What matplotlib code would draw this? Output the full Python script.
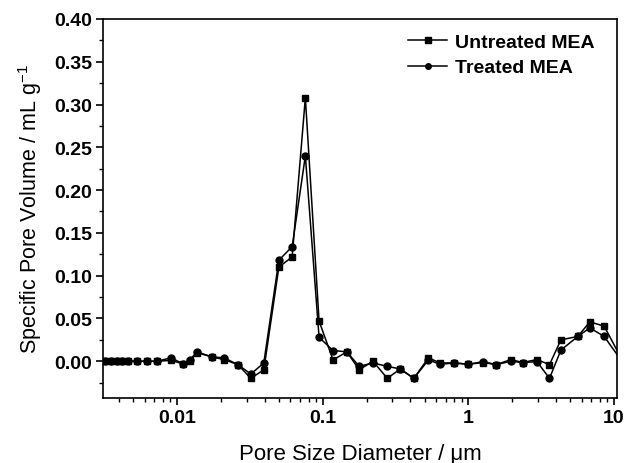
import matplotlib
matplotlib.use("Agg")
import matplotlib.pyplot as plt
from matplotlib.ticker import FixedLocator, MultipleLocator, FixedFormatter, NullFormatter, LogLocator

plt.rcParams['font.family'] = ['Liberation Sans', 'DejaVu Sans']

# pore diameters (um), shared by both series
diameter = [0.0032, 0.0035, 0.0039, 0.0042, 0.0046, 0.0053, 0.0062, 0.0073, 0.0091,
            0.011, 0.0123, 0.0137, 0.0174, 0.021, 0.0262, 0.0321, 0.0394, 0.050,
            0.0617, 0.076, 0.0944, 0.1177, 0.1466, 0.178, 0.2213, 0.2776, 0.3407,
            0.422, 0.532, 0.640, 0.801, 1.0, 1.267, 1.549, 1.961, 2.354, 2.956,
            3.604, 4.316, 5.64, 6.82, 8.55, 12.0]

untreated = [0, 0, 0, 0, 0, 0, 0, 0, 0.001,
             -0.003, 0.000, 0.010, 0.005, 0.002, -0.004, -0.020, -0.010, 0.110,
             0.122, 0.308, 0.047, 0.0015, 0.011, -0.010, 0.000, -0.020, -0.009,
             -0.020, 0.004, -0.002, -0.002, -0.0035, -0.0015, -0.004, 0.002, -0.0015, 0.002,
             -0.004, 0.025, 0.029, 0.046, 0.041, -0.006]

treated = [0, 0, 0, 0, 0, 0, 0, 0, 0.004,
           -0.003, 0.002, 0.011, 0.005, 0.004, -0.004, -0.015, -0.002, 0.118,
           0.134, 0.240, 0.028, 0.0125, 0.011, -0.006, -0.002, -0.006, -0.009,
           -0.020, 0.0015, -0.0035, -0.002, -0.0035, -0.0004, -0.004, 0.000, -0.0015, -0.0005,
           -0.020, 0.013, 0.029, 0.039, 0.029, -0.006]

xticks = [0.01, 0.1, 1, 10]
xtick_labels = ['0.01', '0.1', '1', '10']

fig = plt.figure(figsize=(6.24, 4.64), dpi=100)
ax = fig.add_axes([0.165, 0.140, 0.824, 0.817])

ax.plot(diameter, untreated, '-s', color='black', lw=1.1, ms=5, label='Untreated MEA')
ax.plot(diameter, treated, '-o', color='black', lw=1.1, ms=5, label='Treated MEA')

ax.set_xscale('log')
ax.set_xlim(0.0031, 10.5)
ax.set_ylim(-0.043, 0.40)

ax.xaxis.set_major_locator(FixedLocator(xticks))
ax.xaxis.set_major_formatter(FixedFormatter(xtick_labels))
ax.xaxis.set_minor_locator(LogLocator(base=10, subs=range(2, 10), numticks=20))
ax.xaxis.set_minor_formatter(NullFormatter())
ax.yaxis.set_major_locator(MultipleLocator(0.05))
ax.yaxis.set_minor_locator(MultipleLocator(0.025))
ax.yaxis.set_major_formatter(plt.FuncFormatter(lambda v, p: f'{v:.2f}'))

ax.tick_params(which='major', direction='out', length=5, width=1.2,
               top=False, right=False, labelsize=14, pad=3)
ax.tick_params(which='minor', direction='out', length=3, width=1.0,
               top=False, right=False)
for lab in ax.get_xticklabels() + ax.get_yticklabels():
    lab.set_fontweight('bold')
for s in ax.spines.values():
    s.set_linewidth(1.2)

ax.set_xlabel('Pore Size Diameter / \u03bcm', fontsize=16, labelpad=12)
ax.set_ylabel('Specific Pore Volume / mL g$^{\\mathregular{-1}}$', fontsize=15.5, labelpad=7)

leg = ax.legend(loc='upper right', bbox_to_anchor=(0.99, 1.008), frameon=False,
                prop={'weight': 'bold', 'size': 14}, handlelength=2.0, markerscale=0.8,
                handletextpad=0.4, labelspacing=0.4)

fig.savefig('out.png', dpi=100)
